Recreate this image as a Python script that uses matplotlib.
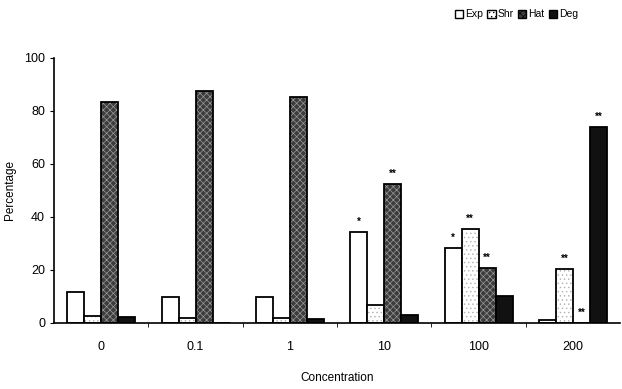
import matplotlib
matplotlib.use("Agg")
import matplotlib.pyplot as plt
import numpy as np

plt.rcParams['font.family'] = ['Liberation Sans', 'DejaVu Sans']
plt.rcParams['hatch.linewidth'] = 0.5

concentrations = ['0', '0.1', '1', '10', '100', '200']
series = ['Exp', 'Shr', 'Hat', 'Deg']
exp_vals = [11.7, 9.8, 9.8, 34.3, 28.3, 1.0]
shr_vals = [2.5, 2.0, 1.8, 6.8, 35.5, 20.4]
hat_vals = [83.4, 87.5, 85.3, 52.5, 20.8, 0.0]
deg_vals = [2.3, 0.0, 1.5, 3.0, 10.0, 74.0]
# significance marks per series
exp_sig = ['', '', '', '*', '*', '']
shr_sig = ['', '', '', '', '**', '**']
hat_sig = ['', '', '', '**', '**', '**']
deg_sig = ['', '', '', '', '', '**']

values = [exp_vals, shr_vals, hat_vals, deg_vals]
sigs = [exp_sig, shr_sig, hat_sig, deg_sig]
faces = ['white', 'white', '#3c3c3c', '#111111']
hatches = [None, '....', 'xxxxx', None]
hatch_cols = [None, '#b0b0b0', '#9a9a9a', None]

fig = plt.figure(figsize=(6.22, 3.89), dpi=100)
ax = fig.add_axes([0.087, 0.17, 0.91, 0.681])

x = np.arange(len(concentrations))
w = 0.18
handles = []
for i, (vals, sg) in enumerate(zip(values, sigs)):
    pos = x + (i - 1.5) * w
    if hatches[i]:
        # texture layer, then outline
        ax.bar(pos, vals, w, color=faces[i], edgecolor=hatch_cols[i],
               linewidth=0, hatch=hatches[i])
        b = ax.bar(pos, vals, w, fill=False, edgecolor='black',
                   linewidth=1.3, label=series[i])
    else:
        b = ax.bar(pos, vals, w, color=faces[i], edgecolor='black',
                   linewidth=1.3, label=series[i])
    handles.append(b)
    for p, v, s in zip(pos, vals, sg):
        if s:
            ax.text(p, v + 2.0, s, ha='center', va='bottom', fontsize=7,
                    fontweight='bold')

ax.set_xlim(-0.5, 5.5)
ax.set_ylim(0, 100)
ax.set_yticks([0, 20, 40, 60, 80, 100])
ax.set_xticks(x)
ax.set_xticklabels(concentrations)
ax.set_xticks(np.arange(0.5, 5.0, 1.0), minor=True)
ax.tick_params(axis='x', which='major', length=0, pad=13, labelsize=9)
ax.tick_params(axis='x', which='minor', length=3, direction='out')
ax.tick_params(axis='y', labelsize=9, length=3)
ax.spines['top'].set_visible(False)
ax.spines['right'].set_visible(False)
ax.spines['left'].set_linewidth(1.2)
ax.spines['bottom'].set_linewidth(1.2)
ax.set_xlabel('Concentration', fontsize=8.5, labelpad=14)
ax.set_ylabel('Percentage', fontsize=8.5, labelpad=6)

leg_handles = []
for i in range(4):
    leg_handles.append(plt.Rectangle((0, 0), 1, 1, facecolor=faces[i],
                                     edgecolor='black', linewidth=1.0,
                                     hatch=hatches[i]))
fig.legend(handles=leg_handles, labels=series, loc='upper right',
           bbox_to_anchor=(0.945, 1.0), ncol=4, frameon=False, fontsize=7.5,
           handlelength=0.8, handleheight=0.8, handletextpad=0.2,
           columnspacing=0.4)

fig.savefig('out.png', dpi=100)
